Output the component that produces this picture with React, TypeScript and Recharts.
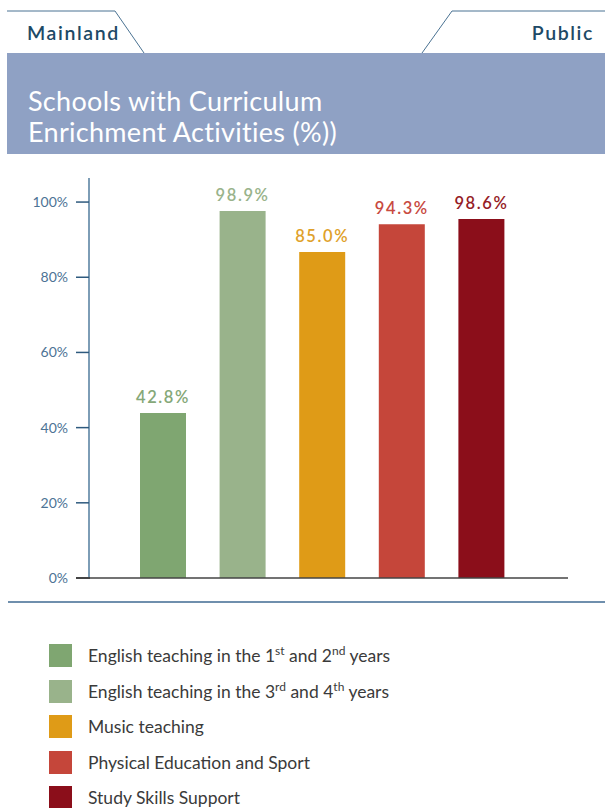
import React from 'react';
import { BarChart, Bar, XAxis, YAxis, Cell, LabelList, ReferenceLine } from 'recharts';

const categories = [
  'English teaching in the 1st and 2nd years',
  'English teaching in the 3rd and 4th years',
  'Music teaching',
  'Physical Education and Sport',
  'Study Skills Support',
];
// bar heights as drawn in the source (they do not quite match the printed figures)
const barValues = [43.9, 97.6, 86.7, 94.1, 95.5];
const valueLabels = ['42.8%', '98.9%', '85.0%', '94.3%', '98.6%'];
const barColors = ['#7fa671', '#99b38b', '#df9b17', '#c5463a', '#8b0e1a'];
const labelColors = ['#85a878', '#99b38b', '#e0a12a', '#c84a3f', '#951c26'];
const yTicks = [0, 20, 40, 60, 80, 100];

const legendItems: { text: string; sup?: [string, string] }[] = [
  { text: 'English teaching in the 1|and 2|years', sup: ['st', 'nd'] },
  { text: 'English teaching in the 3|and 4|years', sup: ['rd', 'th'] },
  { text: 'Music teaching' },
  { text: 'Physical Education and Sport' },
  { text: 'Study Skills Support' },
];

const data = categories.map((name, i) => ({ name, value: barValues[i], label: valueLabels[i] }));

const FONT = 'Lato, "DejaVu Sans", sans-serif';

const ValueLabel = (props: any) => {
  const { x, y, width, index } = props;
  return (
    <text
      x={x + width / 2}
      y={y - 10}
      textAnchor="middle"
      fill={labelColors[index]}
      fontSize={16.5}
      fontFamily={FONT}
      fontWeight={600}
      letterSpacing={1.6}
    >
      {valueLabels[index]}
    </text>
  );
};

const supStyle: React.CSSProperties = { fontSize: 12, verticalAlign: 7, lineHeight: 0 };

const LegendText = ({ item }: { item: (typeof legendItems)[number] }) => {
  if (!item.sup) return <>{item.text}</>;
  const parts = item.text.split('|');
  return (
    <>
      {parts[0]}
      <sup style={supStyle}>{item.sup[0]}</sup> {parts[1]}
      <sup style={supStyle}>{item.sup[1]}</sup> {parts[2]}
    </>
  );
};

export default function App() {
  return (
    <div
      style={{
        position: 'absolute',
        left: 0,
        top: 0,
        width: 605,
        height: 808,
        overflow: 'hidden',
        background: '#fff',
        fontFamily: FONT,
      }}
    >
      <svg width={605} height={60} style={{ position: 'absolute', left: 0, top: 0 }}>
        <polyline points="7,11 115,11 144,53" fill="none" stroke="#4b7393" strokeWidth={1} />
        <polyline points="605,11 452,11 422,53" fill="none" stroke="#4b7393" strokeWidth={1} />
        <text x={27} y={40} fontSize={19.5} fill="#1d4a66" fontFamily={FONT} fontWeight={600} letterSpacing={1.6}>
          Mainland
        </text>
        <text x={594} y={40} fontSize={19.5} fill="#1d4a66" fontFamily={FONT} fontWeight={600} letterSpacing={1.6} textAnchor="end">
          Public
        </text>
      </svg>

      <div
        style={{
          position: 'absolute',
          left: 7,
          top: 53,
          width: 598,
          height: 101,
          background: '#8fa1c4',
          color: '#fff',
          fontSize: 27,
          letterSpacing: 0.3,
          lineHeight: '31px',
          boxSizing: 'border-box',
          padding: '32px 0 0 21px',
        }}
      >
        Schools with Curriculum
        <br />
        Enrichment Activities (%))
      </div>

      <div style={{ position: 'absolute', left: 0, top: 160 }}>
        <BarChart width={605} height={440} data={data} margin={{ top: 18, right: 37, bottom: 21, left: 0 }}>
          <YAxis
            type="number"
            domain={[0, 106.4]}
            ticks={yTicks}
            allowDataOverflow
            width={89}
            tickFormatter={(v: number) => `${v}%`}
            tickSize={13}
            tickMargin={8}
            axisLine={{ stroke: '#7d9db6', strokeWidth: 2 }}
            tickLine={{ stroke: '#2e5a7e', strokeWidth: 1.5 }}
            tick={{ fill: '#4d7395', fontSize: 14, fontFamily: FONT }}
          />
          <XAxis
            dataKey="name"
            height={1}
            tick={false}
            tickLine={false}
            padding={{ left: 34, right: 47 }}
            axisLine={false}
          />
          <Bar dataKey="value" barSize={46} isAnimationActive={false}>
            {data.map((d, i) => (
              <Cell key={d.name} fill={barColors[i]} />
            ))}
            <LabelList dataKey="label" content={ValueLabel} />
          </Bar>
          <ReferenceLine y={0} stroke="#444" strokeWidth={1.5} />
        </BarChart>
      </div>
      {/* x axis stub left of the y axis */}
      <div style={{ position: 'absolute', left: 76, top: 577, width: 14, height: 1.5, background: '#444' }} />

      <div style={{ position: 'absolute', left: 8, top: 601, width: 597, height: 2, background: '#6f8fad' }} />

      {legendItems.map((item, i) => (
        <div key={i} style={{ position: 'absolute', left: 49, top: 644 + i * 35.5, height: 23, display: 'flex', alignItems: 'center' }}>
          <div style={{ width: 23, height: 23, background: barColors[i] }} />
          <div style={{ marginLeft: 16, fontSize: 17.5, color: '#3a3a3a', whiteSpace: 'nowrap' }}>
            <LegendText item={item} />
          </div>
        </div>
      ))}
    </div>
  );
}
